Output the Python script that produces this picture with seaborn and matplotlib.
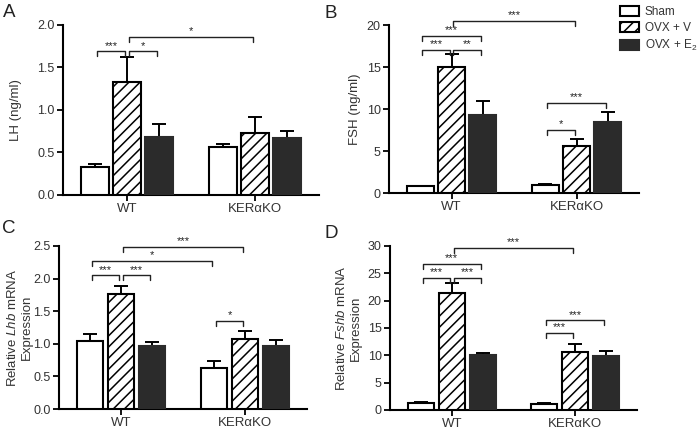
import numpy as np
import pandas as pd
import matplotlib
matplotlib.use("Agg")
import matplotlib.pyplot as plt
from matplotlib.patches import Patch
import seaborn as sns

sns.set_style("ticks")
plt.rcParams["font.family"] = ["Liberation Sans", "DejaVu Sans"]
plt.rcParams["mathtext.fontset"] = "custom"
plt.rcParams["mathtext.rm"] = "Liberation Sans"
plt.rcParams["mathtext.it"] = "Liberation Sans:italic"
plt.rcParams["hatch.linewidth"] = 1.1
plt.rcParams["hatch.color"] = "black"

# ── data (mean, upper SEM); order: WT x3, KERaKO x3 ──
groups = ["WT", "KERαKO"]
treatments = ["Sham", "OVX + V", "OVX + E$_2$"]

lh_mean = [0.33, 1.33, 0.68, 0.56, 0.73, 0.67]
lh_sem = [0.04, 0.29, 0.15, 0.04, 0.19, 0.08]

fsh_mean = [0.8, 15.0, 9.3, 1.0, 5.6, 8.4]
fsh_sem = [0.08, 1.6, 1.7, 0.08, 0.8, 1.2]

lhb_mean = [1.05, 1.77, 0.96, 0.63, 1.07, 0.97]
lhb_sem = [0.10, 0.12, 0.07, 0.11, 0.13, 0.09]

fshb_mean = [1.3, 21.4, 10.1, 1.1, 10.7, 9.9]
fshb_sem = [0.2, 1.9, 0.4, 0.1, 1.3, 0.9]

# significance brackets: (bar i, bar j, height, label); bars 0-2 WT, 3-5 KO
lh_sig = [(0, 1, 1.69, "***"), (1, 2, 1.69, "*"), (1, 4, 1.86, "*")]
fsh_sig = [(0, 1, 17.0, "***"), (1, 2, 17.0, "**"), (0, 2, 18.7, "***"),
           (1, 4, 20.5, "***"), (3, 4, 7.5, "*"), (3, 5, 10.7, "***")]
lhb_sig = [(0, 1, 2.05, "***"), (1, 2, 2.05, "***"), (0, 3, 2.27, "*"),
           (1, 4, 2.49, "***"), (3, 4, 1.35, "*")]
fshb_sig = [(0, 1, 24.1, "***"), (1, 2, 24.1, "***"), (0, 2, 26.7, "***"),
            (1, 4, 29.6, "***"), (3, 4, 14.1, "***"), (3, 5, 16.4, "***")]

DARK = "#2b2b2b"
TXT = "#333333"


def panel(ax, mean, sem, sig, ymax, ystep, ylabel, fmt, label_x):
    df = pd.DataFrame({
        "group": np.repeat(groups, 3),
        "treatment": treatments * 2,
        "value": mean,
    })
    sns.barplot(data=df, x="group", y="value", hue="treatment",
                palette=["white", "white", DARK], width=0.75, gap=0.15,
                errorbar=None, edgecolor="black", linewidth=1.5,
                legend=False, ax=ax, zorder=3)
    bars = sorted(ax.patches, key=lambda p: p.get_x())
    xs = []
    for k, p in enumerate(bars):
        if k % 3 == 1:
            p.set_hatch("///")
        if k % 3 == 2:
            p.set_edgecolor(DARK)
        xc = p.get_x() + p.get_width() / 2
        xs.append(xc)
        ax.errorbar(xc, p.get_height(), yerr=[[0], [sem[k]]], fmt="none",
                    ecolor="black", elinewidth=1.4, capsize=5, capthick=1.4,
                    zorder=2)

    tick = 0.03 * ymax
    for i, j, y, lab in sig:
        x0, x1 = xs[i] + 0.015, xs[j] - 0.015
        ax.plot([x0, x0, x1, x1], [y - tick, y, y, y - tick],
                color="#222222", lw=1.0, clip_on=False)
        ax.annotate(lab, xy=((x0 + x1) / 2, y), xytext=(0, 0.5),
                    textcoords="offset points", ha="center", va="bottom",
                    fontsize=8, color="#222222", annotation_clip=False)

    ax.set_xlim(-0.5, 1.5)
    ax.set_ylim(0, ymax)
    ax.set_yticks(np.arange(0, ymax + ystep / 2, ystep))
    ax.yaxis.set_major_formatter(plt.FormatStrFormatter(fmt))
    ax.set_xlabel("")
    ax.set_ylabel(ylabel, fontsize=9.5, color=TXT, linespacing=1.25)
    ax.yaxis.set_label_coords(label_x, 0.5)
    ax.tick_params(labelsize=9, colors="black", labelcolor=TXT,
                   width=1.3, length=4, pad=2)
    ax.tick_params(axis="x", labelsize=9.5)
    for s in ["left", "bottom"]:
        ax.spines[s].set_linewidth(1.5)
        ax.spines[s].set_color("black")
    sns.despine(ax=ax)


fig = plt.figure(figsize=(7.0, 4.32), dpi=100)
W, H = 700, 432


def add_axes(l, r, t, b):
    return fig.add_axes([l / W, 1 - b / H, (r - l) / W, (b - t) / H])


axA = add_axes(63, 319, 25, 195)
axB = add_axes(389, 639, 25, 193)
axC = add_axes(59, 307, 246, 409)
axD = add_axes(390, 637, 246, 410)

panel(axA, lh_mean, lh_sem, lh_sig, 2.0, 0.5, "LH (ng/ml)", "%.1f",
      (22 - 63) / 256)
panel(axB, fsh_mean, fsh_sem, fsh_sig, 20, 5, "FSH (ng/ml)", "%d",
      (361 - 389) / 250)
panel(axC, lhb_mean, lhb_sem, lhb_sig, 2.5, 0.5,
      "Relative $\\mathit{Lhb}$ mRNA\nExpression", "%.1f",
      (33 - 59) / 248)
panel(axD, fshb_mean, fshb_sem, fshb_sig, 30, 5,
      "Relative $\\mathit{Fshb}$ mRNA\nExpression", "%d",
      (362 - 390) / 247)

for lab, x, y in [("A", 3, 4), ("B", 325, 5), ("C", 2, 220), ("D", 325, 225)]:
    fig.text(x / W, 1 - y / H, lab, fontsize=13.5, ha="left", va="top",
             color="#222222")

handles = [Patch(facecolor="white", edgecolor="black", lw=1.5),
           Patch(facecolor="white", edgecolor="black", hatch="///", lw=1.5),
           Patch(facecolor=DARK, edgecolor=DARK, lw=1.5)]
fig.legend(handles, treatments, loc="upper left",
           bbox_to_anchor=(615 / W, 1 - 1 / H), frameon=False, fontsize=8.5,
           handlelength=1.6, handleheight=0.9, labelspacing=0.35,
           handletextpad=0.5, labelcolor=TXT, borderaxespad=0.2,
           borderpad=0.2)

fig.savefig("out.png", dpi=100)
